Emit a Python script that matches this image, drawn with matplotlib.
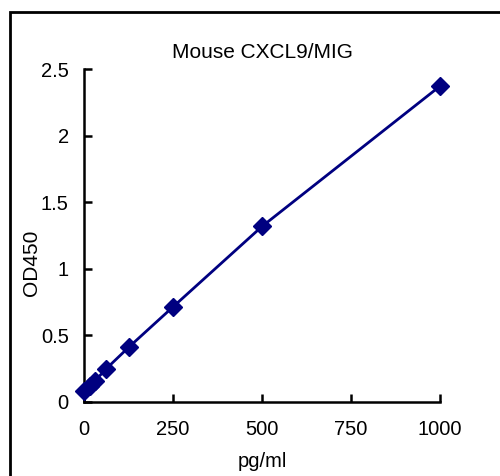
import matplotlib
matplotlib.use('Agg')
import matplotlib.pyplot as plt
from matplotlib.patches import Rectangle

plt.rcParams['font.family'] = ['Liberation Sans', 'DejaVu Sans']

# standard curve, concentration vs absorbance
conc = [0, 15.6, 31.25, 62.5, 125, 250, 500, 1000]
od450 = [0.08, 0.12, 0.16, 0.25, 0.41, 0.715, 1.32, 2.375]

xticks = [0, 250, 500, 750, 1000]
yticks = [0, 0.5, 1, 1.5, 2, 2.5]
ytick_labels = ['0', '0.5', '1', '1.5', '2', '2.5']

fig = plt.figure(figsize=(5, 4.76), dpi=100)
ax = fig.add_axes([0.168, 0.1555, 0.712, 0.6985])

# outer frame, cut off at right and bottom like the original
fig.patches.append(Rectangle((10/500, -0.1), 1.2, 1.1 - 12/476,
                             transform=fig.transFigure, fill=False,
                             edgecolor='black', linewidth=2))

ax.plot(conc, od450, color='#000080', linewidth=2, marker='D',
        markersize=9, markerfacecolor='#000080', markeredgecolor='#000080',
        clip_on=False, zorder=3)

ax.set_xlim(0, 1000)
ax.set_ylim(0, 2.5)
ax.set_xticks(xticks)
ax.set_xticklabels([str(t) for t in xticks])
ax.set_yticks(yticks)
ax.set_yticklabels(ytick_labels)
ax.spines['top'].set_visible(False)
ax.spines['right'].set_visible(False)
ax.spines['left'].set_linewidth(1.8)
ax.spines['bottom'].set_linewidth(1.8)
ax.tick_params(axis='x', direction='in', length=6, width=1.8, pad=13, labelsize=14.5)
ax.tick_params(axis='y', direction='in', length=6, width=1.8, pad=11, labelsize=14.5)

ax.set_title('Mouse CXCL9/MIG', fontsize=15, pad=8)
ax.set_xlabel('pg/ml', fontsize=14.5)
ax.set_ylabel('OD450', fontsize=15)
ax.xaxis.set_label_coords(0.5, -0.15)
ax.yaxis.set_label_coords(-0.12, 0.42)

fig.savefig('out.png', dpi=100)
